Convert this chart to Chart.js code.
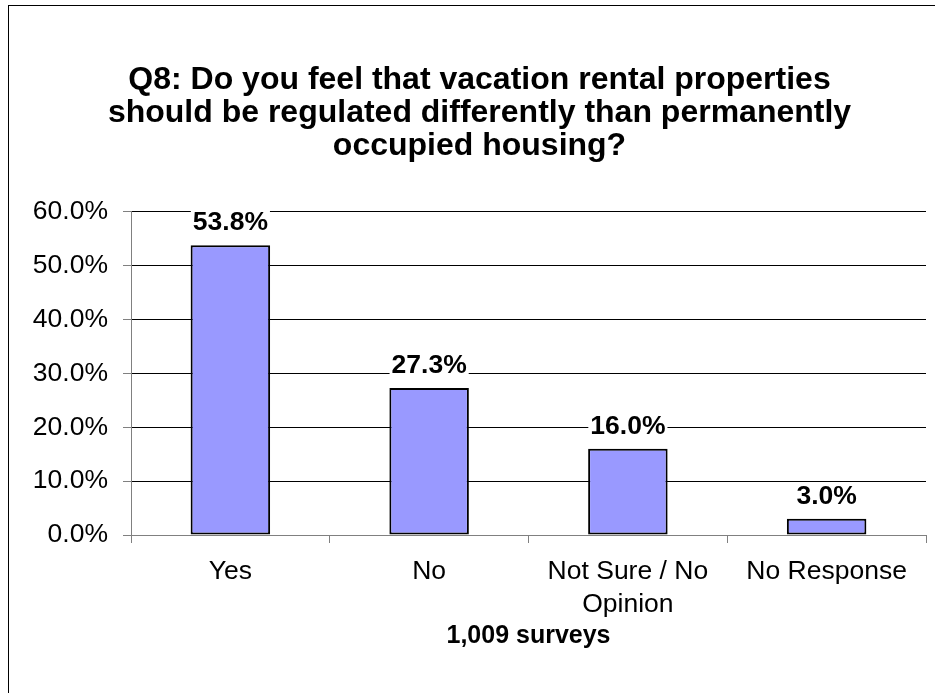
<!DOCTYPE html>
<html>
<head>
<meta charset="utf-8">
<script src="https://cdn.jsdelivr.net/npm/chart.js@4"></script>
<style>
  html, body { margin: 0; padding: 0; background: #fff; }
  #wrap { position: relative; width: 935px; height: 693px; overflow: hidden; }
  #frame { position: absolute; left: 8px; top: 5px; width: 1000px; height: 800px; border: 1px solid #000; box-sizing: border-box; }
  canvas { position: absolute; left: 0; top: 0; }
</style>
</head>
<body>
<div id="wrap">
  <div id="frame"></div>
  <canvas id="c" width="935" height="693"></canvas>
</div>
<script>
const titleLines = [
  'Q8: Do you feel that vacation rental properties',
  'should be regulated differently than permanently',
  'occupied housing?'
];
const categories = ['Yes', 'No', ['Not Sure / No', 'Opinion'], 'No Response'];
const values = [53.8, 27.3, 16.0, 3.0];
const yTicks = [0, 10, 20, 30, 40, 50, 60];
const xAxisTitle = '1,009 surveys';

const FONT = 'Arial, "Liberation Sans", Helvetica, sans-serif';

const labelPlugin = {
  id: 'barLabels',
  afterDatasetsDraw(chart) {
    const ctx = chart.ctx;
    const meta = chart.getDatasetMeta(0);
    ctx.save();
    ctx.font = 'bold 26.5px ' + FONT;
    ctx.textAlign = 'center';
    ctx.textBaseline = 'alphabetic';
    meta.data.forEach((bar, i) => {
      const txt = values[i].toFixed(1) + '%';
      const w = ctx.measureText(txt).width;
      const base = bar.y - 15;
      ctx.fillStyle = '#fff';
      ctx.fillRect(bar.x - w / 2 - 2, base - 21, w + 4, 26);
      ctx.fillStyle = '#000';
      ctx.fillText(txt, bar.x, base);
    });
    ctx.restore();
  }
};

new Chart(document.getElementById('c'), {
  type: 'bar',
  data: {
    labels: categories,
    datasets: [{
      data: values,
      backgroundColor: '#9999FF',
      borderColor: '#000000',
      borderWidth: 2,
      borderSkipped: false,
      categoryPercentage: 0.8,
      barPercentage: 0.5
    }]
  },
  options: {
    responsive: false,
    animation: false,
    devicePixelRatio: 1,
    layout: { padding: { left: 33, right: 9, top: 64, bottom: 42 } },
    plugins: {
      legend: { display: false },
      tooltip: { enabled: false },
      title: {
        display: true,
        text: titleLines,
        color: '#000',
        font: { family: FONT, size: 32, weight: 'bold', lineHeight: 1.031 },
        padding: { top: 0, bottom: 49 }
      }
    },
    scales: {
      y: {
        min: 0,
        max: 60,
        afterBuildTicks(axis) { axis.ticks = yTicks.map(v => ({ value: v })); },
        afterFit(axis) { axis.width = 98; },
        ticks: {
          color: '#000',
          font: { family: FONT, size: 26.5 },
          padding: 15,
          callback: v => v.toFixed(1) + '%'
        },
        grid: { color: '#000', lineWidth: 1, tickLength: 8, tickColor: '#808080' },
        border: { color: '#808080', width: 1 }
      },
      x: {
        afterFit(axis) { axis.height = 116; },
        ticks: {
          color: '#000',
          font: { family: FONT, size: 26.5, lineHeight: 1.245 },
          padding: 12,
          maxRotation: 0,
          autoSkip: false
        },
        grid: { display: true, drawOnChartArea: false, offset: true, tickLength: 8, tickColor: '#808080' },
        border: { color: '#808080', width: 1 },
        title: {
          display: true,
          text: xAxisTitle,
          color: '#000',
          font: { family: FONT, size: 25, weight: 'bold', lineHeight: 1.2 },
          padding: { top: 0, bottom: 0 }
        }
      }
    }
  },
  plugins: [labelPlugin]
});
</script>
</body>
</html>
